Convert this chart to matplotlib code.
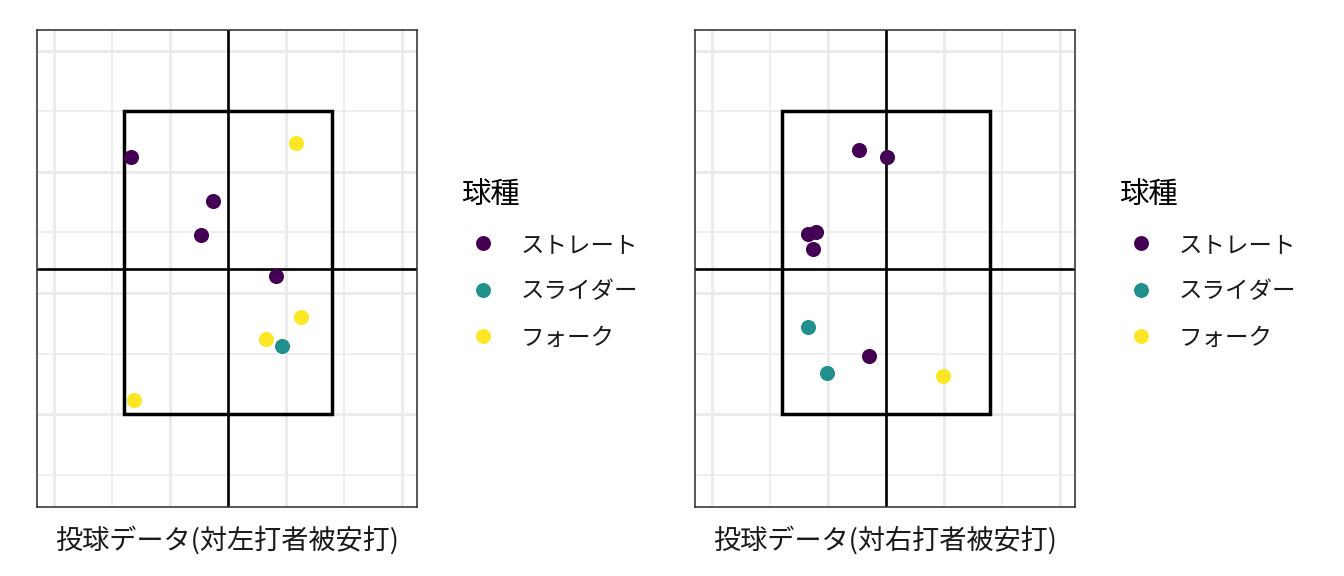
import matplotlib.pyplot as plt
from matplotlib.patches import Rectangle
from matplotlib.lines import Line2D

plt.rcParams['font.family'] = ['Noto Sans CJK JP', 'DejaVu Sans']

# pitch types and viridis colours
pitch_types = ['ストレート', 'スライダー', 'フォーク']
colors = ['#440154', '#21908C', '#FDE725']

# left panel: hits vs left-handed batters
left_title = '投球データ(対左打者被安打)'
left_type = ['ストレート', 'ストレート', 'ストレート', 'ストレート',
             'フォーク', 'フォーク', 'フォーク', 'スライダー', 'フォーク']
left_x = [-0.84, -0.13, -0.23, 0.415, 0.59, 0.63, 0.33, 0.47, -0.81]
left_y = [3.62, 3.26, 2.98, 2.64, 3.74, 2.30, 2.12, 2.06, 1.62]

# right panel: hits vs right-handed batters
right_title = '投球データ(対右打者被安打)'
right_type = ['ストレート', 'ストレート', 'ストレート', 'ストレート', 'ストレート',
              'ストレート', 'スライダー', 'スライダー', 'フォーク']
right_x = [-0.23, 0.01, -0.67, -0.605, -0.63, -0.15, -0.67, -0.51, 0.49]
right_y = [3.68, 3.62, 2.99, 3.00, 2.86, 1.98, 2.22, 1.84, 1.82]

# strike zone and crosshair
zone_x = [-0.9, 0.9]
zone_y = [1.5, 4.0]
cross_x = 0.0
cross_y = 2.7

fig = plt.figure(figsize=(7, 3), dpi=192)


def draw_panel(ax, xs, ys, types, title):
    ax.set_xlim(-1.653, 1.636)
    ax.set_ylim(0.733, 4.67)
    ax.set_xticks([-1.5, -0.5, 0.5, 1.5])
    ax.set_xticks([-1.0, 0.0, 1.0], minor=True)
    ax.set_yticks([1.5, 2.5, 3.5, 4.5])
    ax.set_yticks([1.0, 2.0, 3.0, 4.0], minor=True)
    ax.grid(which='major', color='#EBEBEB', linewidth=1.1, zorder=0)
    ax.grid(which='minor', color='#EBEBEB', linewidth=0.6, zorder=0)
    ax.tick_params(which='both', length=0, labelbottom=False, labelleft=False)
    for s in ax.spines.values():
        s.set_color('#333333')
        s.set_linewidth(0.6)
    ax.set_axisbelow(True)
    ax.add_patch(Rectangle((zone_x[0], zone_y[0]), zone_x[1] - zone_x[0],
                           zone_y[1] - zone_y[0], fill=False,
                           edgecolor='black', linewidth=1.3, zorder=2))
    ax.axvline(cross_x, color='black', linewidth=1.0, zorder=2)
    ax.axhline(cross_y, color='black', linewidth=1.0, zorder=2)
    for t, c in zip(pitch_types, colors):
        px = [x for x, k in zip(xs, types) if k == t]
        py = [y for y, k in zip(ys, types) if k == t]
        ax.scatter(px, py, s=32, color=c, linewidths=0, zorder=3)
    ax.set_xlabel(title, fontsize=10.2, labelpad=7, color='#1a1a1a')

    handles = [Line2D([], [], marker='o', linestyle='', markersize=5.6,
                      markerfacecolor=c, markeredgewidth=0) for c in colors]
    ax.legend(handles, pitch_types, title='球種', loc='upper left',
              bbox_to_anchor=(1.0895, 0.705), frameon=False, fontsize=8.8,
              title_fontsize=11, labelspacing=1.0, handletextpad=0.68,
              alignment='left', borderaxespad=0, handlelength=1.87,
              labelcolor='#1a1a1a')


ax1 = fig.add_axes([0.0273, 0.1193, 0.2832, 0.8286])
draw_panel(ax1, left_x, left_y, left_type, left_title)
ax2 = fig.add_axes([0.5169, 0.1193, 0.2832, 0.8286])
draw_panel(ax2, right_x, right_y, right_type, right_title)

fig.savefig('out.png', dpi=192)
